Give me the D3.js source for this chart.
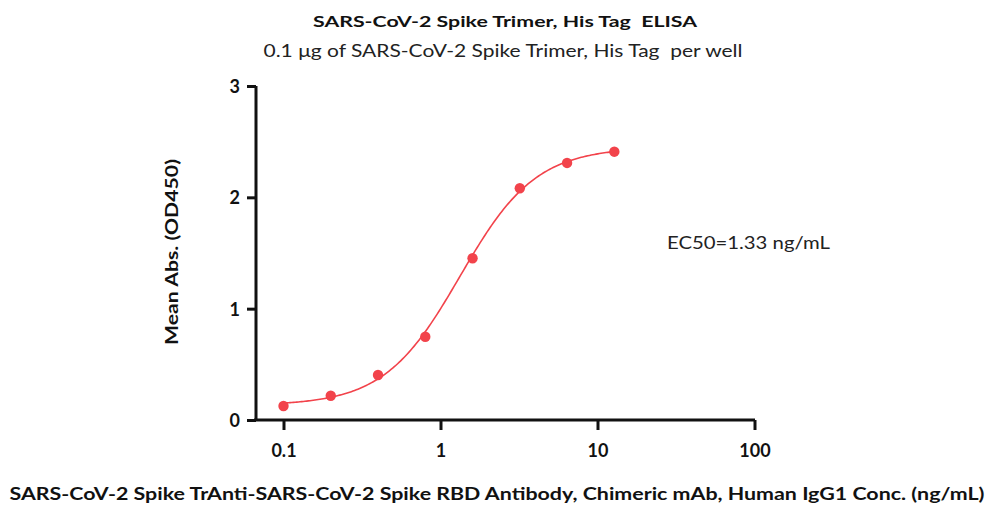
<!DOCTYPE html>
<html><head><meta charset="utf-8">
<script src="https://cdn.jsdelivr.net/npm/d3@7"></script>
<style>body{margin:0;background:#fff}svg{display:block}text{font-family:Lato,"Open Sans",sans-serif;white-space:pre}</style>
</head><body><svg id="c" width="993" height="508"></svg>
<script>
const title = "SARS-CoV-2 Spike Trimer, His Tag  ELISA";
const subtitle = "0.1 \u03bcg of SARS-CoV-2 Spike Trimer, His Tag  per well";
const xTitle = "SARS-CoV-2 Spike TrAnti-SARS-CoV-2 Spike RBD Antibody, Chimeric mAb, Human IgG1 Conc. (ng/mL)";
const yTitle = "Mean Abs. (OD450)";
const ec50Label = "EC50=1.33 ng/mL";
const conc = [0.1, 0.2, 0.4, 0.8, 1.6, 3.2, 6.4, 12.8];
const od = [0.126, 0.218, 0.404, 0.748, 1.453, 2.082, 2.309, 2.41];
const xTicks = [0.1, 1, 10, 100];
const yTicks = [0, 1, 2, 3];
// 4PL fit parameters
const fitBottom = 0.13, fitTop = 2.45, fitEC50 = 1.33, fitHill = 1.8;

const svg = d3.select("#c");
const x = d3.scaleLog().domain([0.1, 100]).range([283.5, 754.5]);
const y = d3.scaleLinear().domain([0, 3]).range([420, 86]);
const red = "#f2434b";

svg.append("text").attr("x", 505).attr("y", 27).attr("text-anchor", "middle")
  .attr("font-weight", "bold").attr("font-size", 15.5).attr("textLength", 384).attr("lengthAdjust","spacingAndGlyphs")
  .attr("fill", "#111").text(title);
svg.append("text").attr("x", 503).attr("y", 57).attr("text-anchor", "middle")
  .attr("font-size", 16.5).attr("textLength", 479).attr("lengthAdjust","spacingAndGlyphs")
  .attr("fill", "#222").text(subtitle);

// axes
const xAxis = svg.append("g").attr("transform", "translate(0,420)")
  .call(d3.axisBottom(x).tickValues(xTicks).tickFormat(d3.format("~g")).tickSize(10).tickPadding(14));
xAxis.select(".domain").attr("d", "M254,0H755");
const yAxis = svg.append("g").attr("transform", "translate(256,0)")
  .call(d3.axisLeft(y).tickValues(yTicks).tickFormat(d3.format("d")).tickSize(9).tickPadding(7));
yAxis.select(".domain").attr("d", "M0,86V421");
svg.selectAll(".domain").style("stroke", "#111").style("stroke-width", "3px");
svg.selectAll(".tick line").style("stroke", "#111").style("stroke-width", "3px");
svg.selectAll(".tick text").attr("font-family", "Lato, sans-serif").attr("font-weight", "bold")
  .attr("font-size", 18).attr("fill", "#111");
yAxis.selectAll(".tick text").attr("dy", "0.36em");

// fit curve
const samples = d3.range(0, 201).map(i => Math.pow(10, Math.log10(conc[0]) + i/200*(Math.log10(conc[conc.length-1]) - Math.log10(conc[0]))));
const fit = c => fitBottom + (fitTop - fitBottom) / (1 + Math.pow(fitEC50 / c, fitHill));
svg.append("path").datum(samples)
  .attr("d", d3.line().x(c => x(c)).y(c => y(fit(c))))
  .attr("fill", "none").attr("stroke", red).attr("stroke-width", 1.6);

svg.append("g").selectAll("circle").data(conc).join("circle")
  .attr("cx", d => x(d)).attr("cy", (d, i) => y(od[i])).attr("r", 5.2).attr("fill", red);

svg.append("text").attr("x", 667).attr("y", 249).attr("font-size", 16.5).attr("fill", "#222")
  .attr("textLength", 163).attr("lengthAdjust","spacingAndGlyphs").text(ec50Label);

svg.append("text").attr("transform", "translate(178,252) rotate(-90)").attr("text-anchor", "middle")
  .attr("font-weight", "bold").attr("font-size", 16.5).attr("fill", "#111")
  .attr("textLength", 186).attr("lengthAdjust","spacingAndGlyphs").text(yTitle);

svg.append("text").attr("x", 497).attr("y", 500).attr("text-anchor", "middle")
  .attr("font-weight", "bold").attr("font-size", 16.5).attr("fill", "#111")
  .attr("textLength", 975).attr("lengthAdjust","spacingAndGlyphs").text(xTitle);
</script></body></html>
